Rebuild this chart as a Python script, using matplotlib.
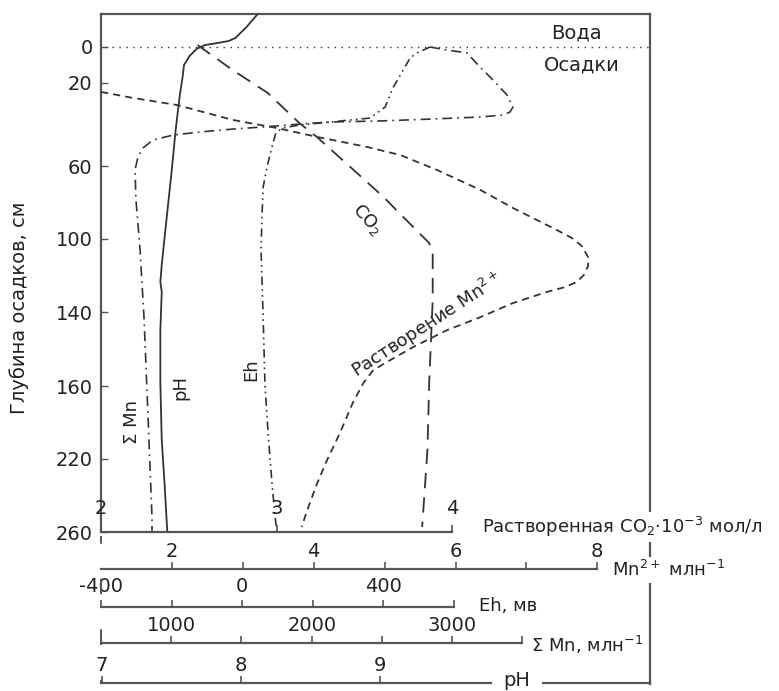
import numpy as np
import matplotlib
matplotlib.use('Agg')
import matplotlib.pyplot as plt
from matplotlib.lines import Line2D

W, H = 779, 691

# depth axis: tick labels (cm) and where they sit on the drawing (px rows)
depth_ticks = [0, 20, 60, 100, 140, 160, 220, 260]
knot_depth = [-100, 0, 20, 60, 100, 140, 160, 220, 260, 400]
knot_row = [-133, 47, 83, 166, 239, 312, 386, 459, 532, 787.5]

# pH profile
ph_val = [8.12, 8.04, 7.96, 7.91, 7.83, 7.74, 7.68, 7.63, 7.59, 7.58, 7.56,
          7.53, 7.50, 7.46, 7.43, 7.42, 7.43, 7.42, 7.42, 7.43, 7.45, 7.47]
ph_depth = [-18.3, -11.1, -5.0, -3.3, -2.2, -1.1, 1.1, 5.0, 10.0, 16.7, 25.8,
            42.7, 63.8, 92.3, 114.2, 123.6, 129.0, 144.9, 159.2, 204.4, 233.2, 260]

# total Mn, ppm
smn_val = [2841, 2962, 3105, 3197, 3290, 3390, 3432, 3411, 3361, 3197, 2841, 2486,
           2130, 1916, 1753, 1439, 1205, 1012, 870, 799, 763, 742, 749, 778, 806,
           835, 863, 863]
smn_depth = [0, 1.7, 3.3, 11.1, 18.3, 25.8, 31.6, 34.0, 35.4, 36.4, 37.4, 38.3,
             38.8, 39.8, 40.7, 42.2, 43.6, 45.1, 47.5, 51.3, 55.7, 62.2, 78.6, 106.0,
             141.4, 185.5, 251.8, 260]

# Eh, mV
eh_val = [533, 497, 477, 454, 428, 406, 363, 250, 165, 114, 96, 85, 71, 60, 57,
          54, 60, 65, 74, 85, 94, 99]
eh_depth = [0, 3.3, 6.1, 13.9, 22.4, 31.6, 36.9, 38.8, 40.2, 41.7, 44.1, 50.8,
            60.5, 71.5, 85.8, 106.0, 141.4, 159.2, 198.6, 233.2, 251.8, 260]

# dissolved Mn2+, ppm
mn_val = [1.00, 1.45, 2.07, 2.86, 3.48, 4.05, 4.75, 5.22, 5.74, 6.35, 6.81, 7.43,
          7.64, 7.78, 7.87, 7.87, 7.81, 7.71, 7.54, 7.29, 6.81, 6.35, 5.88, 5.40,
          5.08, 4.84, 4.70, 4.55, 4.37, 4.19, 4.05, 3.91, 3.83]
mn_depth = [24.3, 27.2, 30.6, 37.8, 41.7, 46.0, 50.8, 54.7, 62.2, 73.1, 83.0, 95.1,
            99.4, 103.8, 109.9, 114.8, 119.7, 123.6, 126.4, 129.0, 135.1, 141.4,
            144.9, 149.5, 153.0, 155.7, 159.2, 174.0, 198.6, 220.5, 233.2, 247.9,
            257.3]

# dissolved CO2, 10^-3 mol/l
co2_val = [2.55, 2.75, 2.95, 3.13, 3.23, 3.42, 3.61, 3.70, 3.87, 3.89, 3.89,
           3.87, 3.86, 3.83]
co2_depth = [-1.1, 12.8, 24.8, 39.3, 46.0, 60.5, 77.0, 85.8, 102.2, 107.7, 133.4,
             159.2, 212.6, 257.3]

FRAME = '#555555'
INK = '#333333'
X0, X1, Y0, Y1 = 101, 650, 14, 532


def fwd(d):
    return np.interp(d, knot_depth, knot_row)


def inv(p):
    return np.interp(p, knot_row, knot_depth)


fig = plt.figure(figsize=(W / 100, H / 100), dpi=100)

main_pos = [X0 / W, 1 - Y1 / H, (X1 - X0) / W, (Y1 - Y0) / H]
ax = fig.add_axes(main_pos)
ax.set_yscale('function', functions=(fwd, inv))
ax.set_ylim(260, inv(Y0))
ax.set_xlim(0, 1)
ax.set_xticks([])
ax.set_yticks(depth_ticks)
ax.set_yticklabels([str(d) for d in depth_ticks])
ax.tick_params(axis='y', direction='in', length=5, width=1, color=FRAME,
               pad=6, labelsize=14, labelcolor='#222222')
ax.spines['right'].set_visible(False)
ax.spines['bottom'].set_visible(False)
for s in ['left', 'top']:
    ax.spines[s].set_color(FRAME)
    ax.spines[s].set_linewidth(1.6)
ax.axhline(0, xmin=0.008, xmax=1, color=INK, lw=1.0, ls=(0, (1, 4)))


def overlay(lim):
    a = fig.add_axes(main_pos, sharey=ax)
    a.set_xlim(*lim)
    a.axis('off')
    return a


px_w = X1 - X0
ax_co2 = overlay((2, 2 + px_w / 175.5))
ax_mn = overlay((1, 1 + px_w / 70.9))
ax_eh = overlay((-400, -400 + px_w * 400 / 141))
ax_smn = overlay((500, 500 + px_w * 1000 / 140.5))
ax_ph = overlay((6.993, 6.993 + px_w / 139))

ax_ph.plot(ph_val, ph_depth, color=INK, lw=1.3)
ax_smn.plot(smn_val, smn_depth, color=INK, lw=1.2, ls=(0, (6, 3, 1, 3)))
ax_eh.plot(eh_val, eh_depth, color=INK, lw=1.2, ls=(0, (5, 2.5, 1, 2.5, 1, 2.5)))
ax_mn.plot(mn_val, mn_depth, color=INK, lw=1.3, ls=(0, (4, 2.8)))
ax_co2.plot(co2_val, co2_depth, color=INK, lw=1.3, ls=(0, (8.5, 5)))


def scale(y, lim, bounds, major, minor, pad):
    a = fig.add_axes([X0 / W, 1 - y / H, px_w / W, 1 / H])
    a.set_xlim(*lim)
    a.patch.set_visible(False)
    for s in ['left', 'right', 'top']:
        a.spines[s].set_visible(False)
    a.spines['bottom'].set_bounds(*bounds)
    a.spines['bottom'].set_color(FRAME)
    a.spines['bottom'].set_linewidth(1.6)
    a.set_yticks([])
    a.set_xticks(major)
    a.set_xticklabels([str(m) for m in major])
    a.set_xticks(minor, minor=True)
    a.tick_params(axis='x', which='both', direction='in', length=5, width=1.2,
                  color=FRAME, bottom=True, top=False, labelbottom=False,
                  labeltop=True, pad=pad, labelsize=14, labelcolor='#222222')
    return a


scale(532, ax_co2.get_xlim(), (2, 4), [2, 3, 4], [], 9)
scale(569, ax_mn.get_xlim(), (1, 8), [2, 4, 6, 8], [3, 5, 7], 5)
scale(607, ax_eh.get_xlim(), (-400, 600), [-400, 0, 400], [-200, 200, 600], 7)
scale(643, ax_smn.get_xlim(), (500, 3500), [1000, 2000, 3000], [1500, 2500, 3500], 5)
lim = ax_ph.get_xlim()
scale(683, lim, lim, [7, 8, 9], [10], 5)

# right frame and dashed left guide below the depth axis
fig.add_artist(Line2D([X1 / W, X1 / W], [1 - Y0 / H, 1 - 684 / H],
                      transform=fig.transFigure, color=FRAME, lw=1.6))
fig.add_artist(Line2D([X0 / W, X0 / W], [1 - 536 / H, 1 - 683 / H],
                      transform=fig.transFigure, color=FRAME, lw=1.4,
                      ls=(4, (8, 18))))


def ftext(x, y, s, **kw):
    kw.setdefault('color', '#222222')
    return fig.text(x / W, 1 - y / H, s, **kw)


white = dict(facecolor='white', edgecolor='none', pad=2)
ftext(19, 308, 'Глубина осадков, см', rotation=90, ha='center', va='center', fontsize=14)
ftext(576, 33, 'Вода', ha='center', va='center', fontsize=14)
ftext(582, 65, 'Осадки', ha='center', va='center', fontsize=14)
ftext(482, 527, 'Растворенная CO$_2$·10$^{-3}$ мол/л', ha='left', va='center',
      fontsize=13, bbox=white)
ftext(612, 570, 'Mn$^{2+}$ млн$^{-1}$', ha='left', va='center', fontsize=13, bbox=white)
ftext(479, 606, 'Eh, мв', ha='left', va='center', fontsize=13)
ftext(531, 645, 'Σ Mn, млн$^{-1}$', ha='left', va='center', fontsize=13, bbox=white)
ftext(517, 681, 'pH', ha='center', va='center', fontsize=14,
      bbox=dict(facecolor='white', edgecolor='none', pad=8))

ftext(367, 220, 'CO$_2$', rotation=-48, ha='center', va='center', fontsize=13)
ftext(427, 325, 'Растворение Mn$^{2+}$', rotation=33, ha='center', va='center',
      fontsize=13, rotation_mode='anchor')
ftext(180, 388, 'pH', rotation=90, ha='center', va='center', fontsize=13)
ftext(132, 422, 'Σ Mn', rotation=90, ha='center', va='center', fontsize=13)
ftext(251, 370, 'Eh', rotation=90, ha='center', va='center', fontsize=13)

fig.savefig('out.png', dpi=100)
